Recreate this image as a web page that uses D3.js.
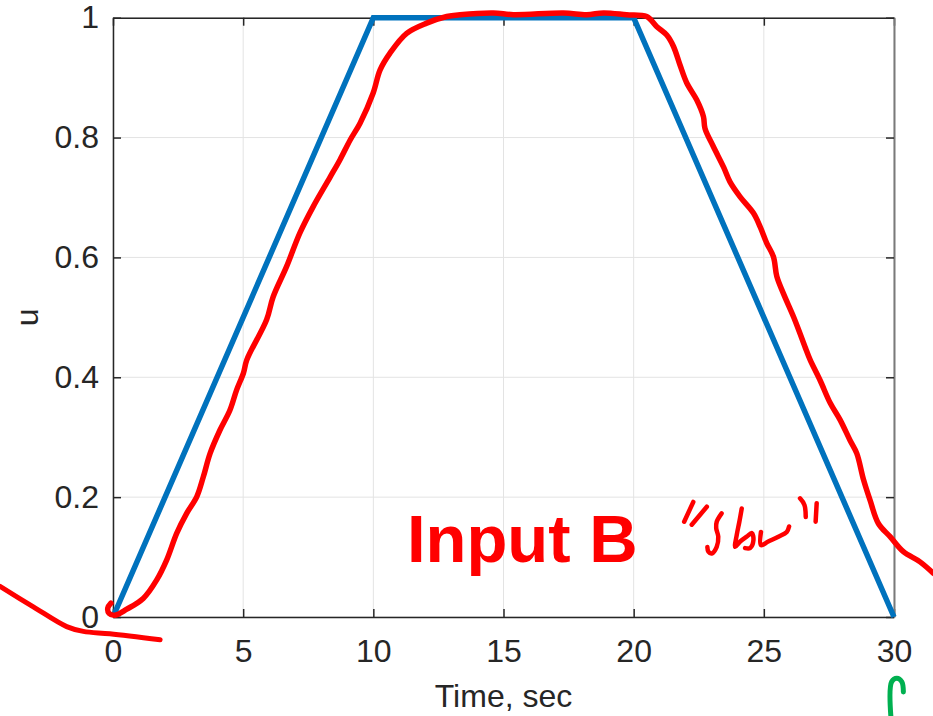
<!DOCTYPE html>
<html>
<head>
<meta charset="utf-8">
<script src="https://cdn.jsdelivr.net/npm/d3@7"></script>
<style>
  body { margin: 0; background: #fff; }
  svg { display: block; font-family: Arial, "Liberation Sans", sans-serif; }
</style>
</head>
<body>
<div id="chart"></div>
<script>
// input command (blue) - time in sec, u
var inputT = [0, 10, 20, 30];
var inputU = [0, 1, 1, 0];

// measured response (red, hand traced)
var respT = [-0.08, -0.20, -0.15, 0.08, 0.53, 1.16, 1.68, 2.06, 2.45, 2.83, 3.22, 3.47, 3.73, 4.11, 4.49, 4.75, 5.01,
  5.14, 5.90, 6.15, 6.67, 7.18, 7.68, 8.34, 8.72, 9.11, 9.49, 9.99, 10.26, 10.64, 11.28, 12.05, 12.82,
  13.33, 14.61, 15.38, 17.30, 18.20, 18.84, 19.73, 20.50, 20.89, 21.27, 21.53, 21.78, 22.04, 22.42,
  22.68, 22.74, 23.06, 23.45, 23.70, 24.09, 24.60, 24.86, 25.11, 25.37, 25.50, 25.75, 26.14, 26.39,
  26.58, 26.78, 27.16, 27.55, 27.93, 28.31, 28.57, 28.83, 29.08, 29.40, 29.85, 30.36, 31.00, 31.51];
var respU = [0.023, 0.015, 0.006, 0.003, 0.013, 0.031, 0.062, 0.095, 0.140, 0.173, 0.201, 0.234, 0.273, 0.312, 0.345, 0.379, 0.407,
  0.429, 0.496, 0.534, 0.585, 0.641, 0.684, 0.734, 0.763, 0.796, 0.824, 0.874, 0.913, 0.941, 0.974, 0.991, 1.002,
  1.005, 1.008, 1.005, 1.008, 1.005, 1.008, 1.005, 1.002, 0.985, 0.971, 0.952, 0.921, 0.891, 0.863,
  0.835, 0.815, 0.785, 0.751, 0.726, 0.701, 0.674, 0.651, 0.624, 0.601, 0.568, 0.540, 0.501, 0.473,
  0.451, 0.429, 0.395, 0.357, 0.329, 0.295, 0.273, 0.229, 0.195, 0.156, 0.134, 0.109, 0.092, 0.073];

// hand drawn marks (data units)
var leftStroke = [[-4.34, 0.051], [-3.06, 0.017], [-1.78, -0.016], [-1.14, -0.024], [-0.12, -0.028], [1.81, -0.038]];
var slowStrokes = [
  [[22.29, 0.192], [21.94, 0.159]],
  [[22.81, 0.184], [22.23, 0.154]],
  [[23.38, 0.173], [23.19, 0.159], [23.17, 0.148], [23.25, 0.134], [23.19, 0.117], [23.00, 0.106], [22.87, 0.109], [22.83, 0.117]],
  [[24.15, 0.181], [24.06, 0.159], [23.96, 0.137], [23.90, 0.117], [24.09, 0.126], [24.34, 0.134], [24.54, 0.140],
    [24.60, 0.128], [24.47, 0.115], [24.28, 0.115]],
  [[24.89, 0.142], [24.89, 0.120], [25.17, 0.126], [25.56, 0.134], [25.88, 0.142], [25.97, 0.151]],
  [[26.39, 0.198], [26.56, 0.187], [26.61, 0.167]],
  [[27.03, 0.190], [26.99, 0.159]]
];
var arrowStroke = [[29.88, -0.166], [29.91, -0.108], [30.11, -0.102], [30.30, -0.108], [30.36, -0.125]];

var xTicks = [0, 5, 10, 15, 20, 25, 30];
var yTicks = [0, 0.2, 0.4, 0.6, 0.8, 1];
var xLabel = 'Time, sec';
var yLabel = 'u';
var noteText = 'Input B';
var notePos = [11.29, 0.092];

var width = 933, height = 716;
var margin = {left: 113, right: 39, top: 17.7, bottom: 99};

var svg = d3.select('#chart').append('svg')
    .attr('width', width)
    .attr('height', height);

var x = d3.scaleLinear().domain([0, 30]).range([margin.left, width - margin.right]);
var y = d3.scaleLinear().domain([0, 1]).range([height - margin.bottom, margin.top]);

var ink = '#262626';

// grid
var grid = svg.append('g');
grid.selectAll('.gx').data(xTicks).enter().append('line')
    .attr('x1', function(d) { return x(d); }).attr('x2', function(d) { return x(d); })
    .attr('y1', y(0)).attr('y2', y(1))
    .attr('stroke', '#e3e3e3').attr('stroke-width', 1);
grid.selectAll('.gy').data(yTicks).enter().append('line')
    .attr('y1', function(d) { return y(d); }).attr('y2', function(d) { return y(d); })
    .attr('x1', x(0)).attr('x2', x(30))
    .attr('stroke', '#e3e3e3').attr('stroke-width', 1);

// axes
function styleAxis(g) {
    g.select('.domain').attr('stroke', ink).attr('stroke-width', 1.5);
    g.selectAll('.tick line').attr('stroke', ink).attr('stroke-width', 1.5);
    g.selectAll('.tick text').attr('fill', ink).style('font-size', '32px');
}
svg.append('g')
    .attr('transform', 'translate(0,' + y(0) + ')')
    .call(d3.axisBottom(x).tickValues(xTicks).tickSize(-8).tickSizeOuter(0).tickPadding(22).tickFormat(d3.format('d')))
    .call(styleAxis);
svg.append('g')
    .attr('transform', 'translate(' + x(0) + ',0)')
    .call(d3.axisLeft(y).tickValues(yTicks).tickSize(-8).tickSizeOuter(0).tickPadding(14).tickFormat(function(d) { return d3.format('')(d); }))
    .call(styleAxis);
svg.append('g')
    .attr('transform', 'translate(0,' + y(1) + ')')
    .call(d3.axisTop(x).tickValues(xTicks).tickSize(-8).tickSizeOuter(0).tickFormat(''))
    .call(styleAxis);
var right = svg.append('g')
    .attr('transform', 'translate(' + x(30) + ',0)')
    .call(d3.axisRight(y).tickValues(yTicks).tickSize(-8).tickSizeOuter(0).tickFormat(''))
    .call(styleAxis);
right.select('.domain').attr('stroke', '#7a7a7a').attr('stroke-width', 2);

// labels
svg.append('text')
    .attr('x', (x(0) + x(30)) / 2).attr('y', 707)
    .attr('text-anchor', 'middle').attr('fill', ink)
    .style('font-size', '32px').text(xLabel);
svg.append('text')
    .attr('transform', 'translate(38,' + (y(0) + y(1)) / 2 + ') rotate(-90)')
    .attr('text-anchor', 'middle').attr('fill', ink)
    .style('font-size', '32px').text(yLabel);

// lines
var line = d3.line()
    .x(function(d) { return x(d[0]); })
    .y(function(d) { return y(d[1]); });
var smooth = d3.line()
    .x(function(d) { return x(d[0]); })
    .y(function(d) { return y(d[1]); })
    .curve(d3.curveCatmullRom.alpha(0.5));

svg.append('path')
    .datum(d3.zip(inputT, inputU))
    .attr('fill', 'none').attr('stroke', '#0072BD').attr('stroke-width', 5.5)
    .attr('stroke-linejoin', 'miter')
    .attr('d', line);

svg.append('path')
    .datum(d3.zip(respT, respU))
    .attr('fill', 'none').attr('stroke', '#ff0000').attr('stroke-width', 5.5)
    .attr('stroke-linecap', 'round').attr('stroke-linejoin', 'round')
    .attr('d', smooth);

svg.append('path')
    .datum(leftStroke)
    .attr('fill', 'none').attr('stroke', '#ff0000').attr('stroke-width', 5)
    .attr('stroke-linecap', 'round')
    .attr('d', smooth);

// annotation
svg.append('text')
    .attr('x', x(notePos[0])).attr('y', y(notePos[1]))
    .attr('fill', '#ff0000').attr('font-weight', 'bold')
    .style('font-size', '67px').text(noteText);

svg.selectAll('.slow').data(slowStrokes).enter().append('path')
    .attr('fill', 'none').attr('stroke', '#ff0000').attr('stroke-width', 4.5)
    .attr('stroke-linecap', 'round').attr('stroke-linejoin', 'round')
    .attr('d', smooth);

svg.append('path')
    .datum(arrowStroke)
    .attr('fill', 'none').attr('stroke', '#00b050').attr('stroke-width', 5)
    .attr('stroke-linecap', 'round').attr('stroke-linejoin', 'round')
    .attr('d', smooth);
</script>
</body>
</html>
